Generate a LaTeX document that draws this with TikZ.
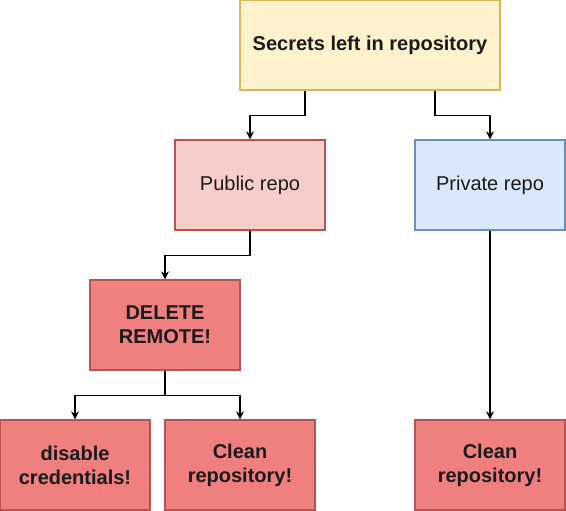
\documentclass[tikz,border=0pt]{standalone}
\usepackage{fontspec}
\setmainfont{Liberation Sans}
\usetikzlibrary{arrows.meta}
\definecolor{noteFill}{HTML}{FFF2CC}
\definecolor{noteLine}{HTML}{D6B656}
\definecolor{pubFill}{HTML}{F8CECC}
\definecolor{redLine}{HTML}{B85450}
\definecolor{privFill}{HTML}{DAE8FC}
\definecolor{privLine}{HTML}{6C8EBF}
\definecolor{alertFill}{HTML}{F08080}
\definecolor{inkText}{HTML}{1A1A1A}
\begin{document}
\begin{tikzpicture}[x=1pt,y=-1pt,
    box/.style={draw, line width=1.2pt, minimum width=150pt, minimum height=90pt,
                align=center, text=inkText, inner sep=2pt},
    alert/.style={box, fill=alertFill, draw=redLine, font=\bfseries},
    link/.style={line width=1.2pt, -{Stealth[length=8pt,width=8pt,inset=2.5pt]}}]
                \useasboundingbox (0,0) rectangle (566,511);
                {\fontsize{20}{24}\selectfont

                % Top box
                \node [box, minimum width=260pt, fill=noteFill, draw=noteLine, font=\bfseries] (secrets) at (370,45) {Secrets left in repository};

                % Second row
                \node [box, fill=pubFill, draw=redLine] (public) at (250,185) {Public repo};
                \node [box, fill=privFill, draw=privLine] (private) at (490,185) {Private repo};

                % Third row
                \node [alert] (delete) at (165,325) {DELETE\\REMOTE!};

                % Bottom row
                \node [alert] (disable) at (75,465) {disable\\credentials!};
                \node [alert] (cleanpub) at (240,465) {Clean\\repository!};
                \node [alert] (cleanpriv) at (490,465) {Clean\\repository!};

                % Drawing links
                \draw [link] ([xshift=-65pt]secrets.south) -- ++(0,25) -| (public.north);%
                \draw [link] ([xshift=65pt]secrets.south) -- ++(0,25) -| (private.north);%
                \draw [link] (public.south) -- ++(0,25) -| (delete.north);%
                \draw [link] (delete.south) -- ++(0,25) -| (disable.north);%
                \draw [link] (delete.south) -- ++(0,25) -| (cleanpub.north);%
                \draw [link] (private.south) -- (cleanpriv.north);%
                }
\end{tikzpicture}
\end{document}
